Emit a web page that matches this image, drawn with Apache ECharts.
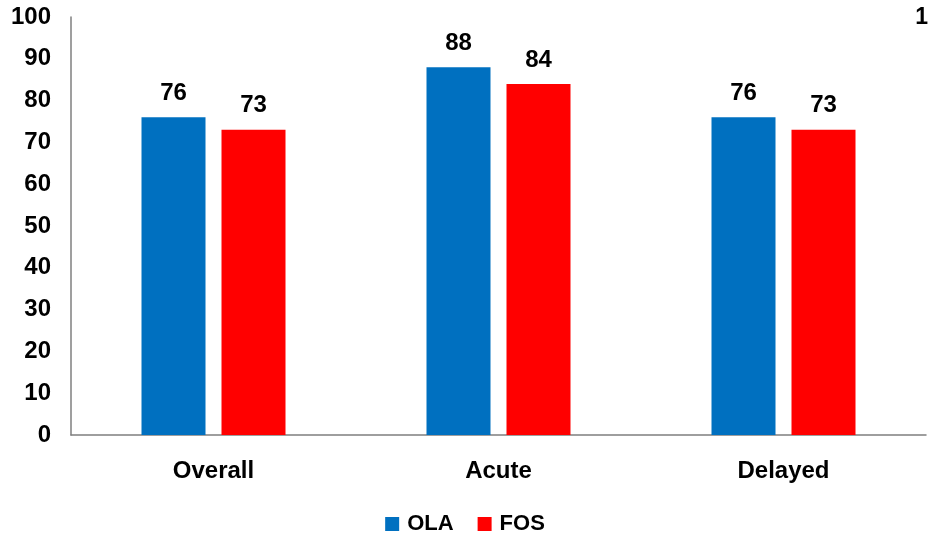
<!DOCTYPE html>
<html>
<head>
<meta charset="utf-8">
<script src="https://cdn.jsdelivr.net/npm/echarts@6/dist/echarts.min.js"></script>
<style>
  html, body { margin: 0; padding: 0; background: #fff; }
  #chart { width: 930px; height: 538px; }
</style>
</head>
<body>
<div id="chart"></div>
<script>
// Response rates by phase
const categories = ['Overall', 'Acute', 'Delayed'];
const olaValues = [76, 88, 76];
const fosValues = [73, 84, 73];
const yTicks = [0, 10, 20, 30, 40, 50, 60, 70, 80, 90, 100];

const font = 'Liberation Sans, Arial, sans-serif';
const chart = echarts.init(document.getElementById('chart'));

const labelStyle = { fontSize: 24, fontWeight: 'bold', color: '#000', fontFamily: font };

chart.setOption({
  animation: false,
  backgroundColor: '#ffffff',
  textStyle: { fontFamily: font },
  graphic: [{
    type: 'text', right: 2, top: 6,
    style: { text: '1', font: 'bold 23px ' + font, fill: '#000' }
  }],
  legend: {
    bottom: -2, left: 'center',
    itemWidth: 14, itemHeight: 14, itemGap: 24,
    icon: 'rect',
    textStyle: { fontSize: 22, fontWeight: 'bold', color: '#000', fontFamily: font, padding: [0, 0, 0, 3] },
    data: ['OLA', 'FOS']
  },
  grid: { left: 71, right: 4, top: 17, bottom: 103, containLabel: false },
  xAxis: {
    type: 'category', data: categories,
    axisLine: { lineStyle: { color: '#7f7f7f', width: 1.5 } },
    axisTick: { show: false },
    axisLabel: Object.assign({ margin: 24 }, labelStyle)
  },
  yAxis: {
    type: 'value', min: yTicks[0], max: yTicks[yTicks.length - 1], interval: 10,
    axisLine: { show: true, lineStyle: { color: '#7f7f7f', width: 1.5 } },
    axisTick: { show: false },
    splitLine: { show: false },
    axisLabel: Object.assign({ margin: 20 }, labelStyle)
  },
  series: [
    {
      name: 'OLA', type: 'bar', data: olaValues,
      barWidth: 64, barGap: '25%',
      itemStyle: { color: '#0070C0' },
      label: Object.assign({ show: true, position: 'top', distance: 12 }, labelStyle)
    },
    {
      name: 'FOS', type: 'bar', data: fosValues,
      barWidth: 64,
      itemStyle: { color: '#FF0000' },
      label: Object.assign({ show: true, position: 'top', distance: 12 }, labelStyle)
    }
  ]
});
</script>
</body>
</html>
